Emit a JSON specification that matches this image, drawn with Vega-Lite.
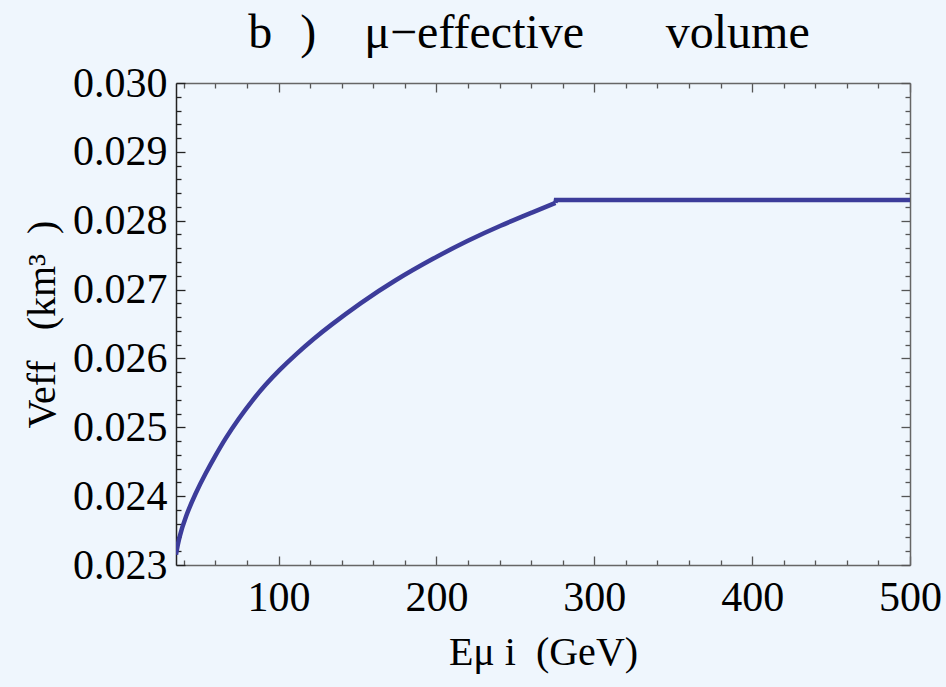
{
  "$schema": "https://vega.github.io/schema/vega-lite/v6.json",
  "width": 734,
  "height": 482,
  "autosize": "none",
  "padding": {"left": 176, "top": 83, "right": 36, "bottom": 122},
  "background": "#eff6fd",
  "config": {"view": {"stroke": null}, "font": "Liberation Serif"},
  "title": {
    "text": "b\u2002\u200a)\u2003μ−effective\u2003\u2002\u2009volume",
    "font": "Liberation Serif",
    "fontSize": 48,
    "fontWeight": "normal",
    "color": "black",
    "anchor": "middle",
    "frame": "group",
    "baseline": "alphabetic",
    "offset": 12,
    "dy": 46,
    "dx": -14
  },
  "data": {
    "values": [
      {"seg": "a", "E": 35, "V": 0.02315},
      {"seg": "a", "E": 36.8, "V": 0.02339},
      {"seg": "a", "E": 41.0, "V": 0.0237},
      {"seg": "a", "E": 47.3, "V": 0.02404},
      {"seg": "a", "E": 53.7, "V": 0.02433},
      {"seg": "a", "E": 60.0, "V": 0.02459},
      {"seg": "a", "E": 66.3, "V": 0.02484},
      {"seg": "a", "E": 74.8, "V": 0.02513},
      {"seg": "a", "E": 83.3, "V": 0.02539},
      {"seg": "a", "E": 91.7, "V": 0.02562},
      {"seg": "a", "E": 100.4, "V": 0.02583},
      {"seg": "a", "E": 110.9, "V": 0.02606},
      {"seg": "a", "E": 122.5, "V": 0.02629},
      {"seg": "a", "E": 131.1, "V": 0.02645},
      {"seg": "a", "E": 152.1, "V": 0.02681},
      {"seg": "a", "E": 173.2, "V": 0.02713},
      {"seg": "a", "E": 198.5, "V": 0.02746},
      {"seg": "a", "E": 219.6, "V": 0.02771},
      {"seg": "a", "E": 240.6, "V": 0.02793},
      {"seg": "a", "E": 261.7, "V": 0.02813},
      {"seg": "a", "E": 275.4, "V": 0.02826},
      {"seg": "b", "E": 275.4, "V": 0.02826},
      {"seg": "b", "E": 275.7, "V": 0.0283},
      {"seg": "b", "E": 500, "V": 0.0283}
    ]
  },
  "layer": [
    {
      "transform": [{"filter": "datum.seg === 'a'"}],
      "mark": {"type": "line", "color": "#3c3c9a", "strokeWidth": 4.5, "interpolate": "basis", "clip": true},
      "encoding": {
        "x": {
          "field": "E", "type": "quantitative",
          "scale": {"domain": [35, 500], "nice": false, "zero": false},
          "axis": {
            "orient": "bottom",
            "values": [40,60,80,100,120,140,160,180,200,220,240,260,280,300,320,340,360,380,400,420,440,460,480,500],
            "labelExpr": "datum.value % 100 === 0 ? format(datum.value, 'd') : ''",
            "grid": false,
            "domainColor": "#666666", "domainWidth": 1.5,
            "tickColor": "#555555", "tickWidth": 1.3,
            "tickSize": {"condition": {"test": "datum.value % 100 === 0", "value": -9}, "value": -5},
            "labelFont": "Liberation Serif", "labelFontSize": 42, "labelColor": "black",
            "labelPadding": 21, "labelFlush": false, "labelOverlap": false,
            "title": "Eμ i\u2002(GeV)",
            "titleFont": "Liberation Serif", "titleFontSize": 40, "titleFontWeight": "normal", "titleColor": "black",
            "titlePadding": 10
          }
        },
        "y": {
          "field": "V", "type": "quantitative",
          "scale": {"domain": [0.023, 0.030], "nice": false, "zero": false},
          "axis": {
            "orient": "left",
            "values": [0.023,0.0232,0.0234,0.0236,0.0238,0.024,0.0242,0.0244,0.0246,0.0248,0.025,0.0252,0.0254,0.0256,0.0258,0.026,0.0262,0.0264,0.0266,0.0268,0.027,0.0272,0.0274,0.0276,0.0278,0.028,0.0282,0.0284,0.0286,0.0288,0.029,0.0292,0.0294,0.0296,0.0298,0.030],
            "labelExpr": "abs(datum.value*1000 - round(datum.value*1000)) < 0.01 ? format(datum.value, '.3f') : ''",
            "grid": false,
            "domainColor": "#222222", "domainWidth": 1.5,
            "tickColor": "#222222", "tickWidth": 1.3,
            "tickSize": {"condition": {"test": "abs(datum.value*1000 - round(datum.value*1000)) < 0.01", "value": -9}, "value": -5},
            "labelFont": "Liberation Serif", "labelFontSize": 42, "labelColor": "black",
            "labelPadding": 18, "labelFlush": false, "labelOverlap": false,
            "title": "Veff\u2002\u00a0(km³\u2002)",
            "titleFont": "Liberation Serif", "titleFontSize": 40, "titleFontWeight": "normal", "titleColor": "black",
            "titlePadding": 10
          }
        }
      }
    },
    {
      "transform": [{"filter": "datum.seg === 'b'"}],
      "mark": {"type": "line", "color": "#3c3c9a", "strokeWidth": 4.5, "interpolate": "linear", "clip": true},
      "encoding": {
        "x": {
          "field": "E", "type": "quantitative",
          "axis": {
            "orient": "top",
            "values": [40,60,80,100,120,140,160,180,200,220,240,260,280,300,320,340,360,380,400,420,440,460,480,500],
            "labels": false, "grid": false, "title": null,
            "domainColor": "#666666", "domainWidth": 1.5,
            "tickColor": "#555555", "tickWidth": 1.3,
            "tickSize": {"condition": {"test": "datum.value % 100 === 0", "value": -9}, "value": -5}
          }
        },
        "y": {
          "field": "V", "type": "quantitative",
          "axis": {
            "orient": "right",
            "values": [0.023,0.0232,0.0234,0.0236,0.0238,0.024,0.0242,0.0244,0.0246,0.0248,0.025,0.0252,0.0254,0.0256,0.0258,0.026,0.0262,0.0264,0.0266,0.0268,0.027,0.0272,0.0274,0.0276,0.0278,0.028,0.0282,0.0284,0.0286,0.0288,0.029,0.0292,0.0294,0.0296,0.0298,0.030],
            "labels": false, "grid": false, "title": null,
            "domainColor": "#666666", "domainWidth": 1.5,
            "tickColor": "#555555", "tickWidth": 1.3,
            "tickSize": {"condition": {"test": "abs(datum.value*1000 - round(datum.value*1000)) < 0.01", "value": -9}, "value": -5}
          }
        }
      }
    }
  ],
  "resolve": {"axis": {"x": "independent", "y": "independent"}}
}
